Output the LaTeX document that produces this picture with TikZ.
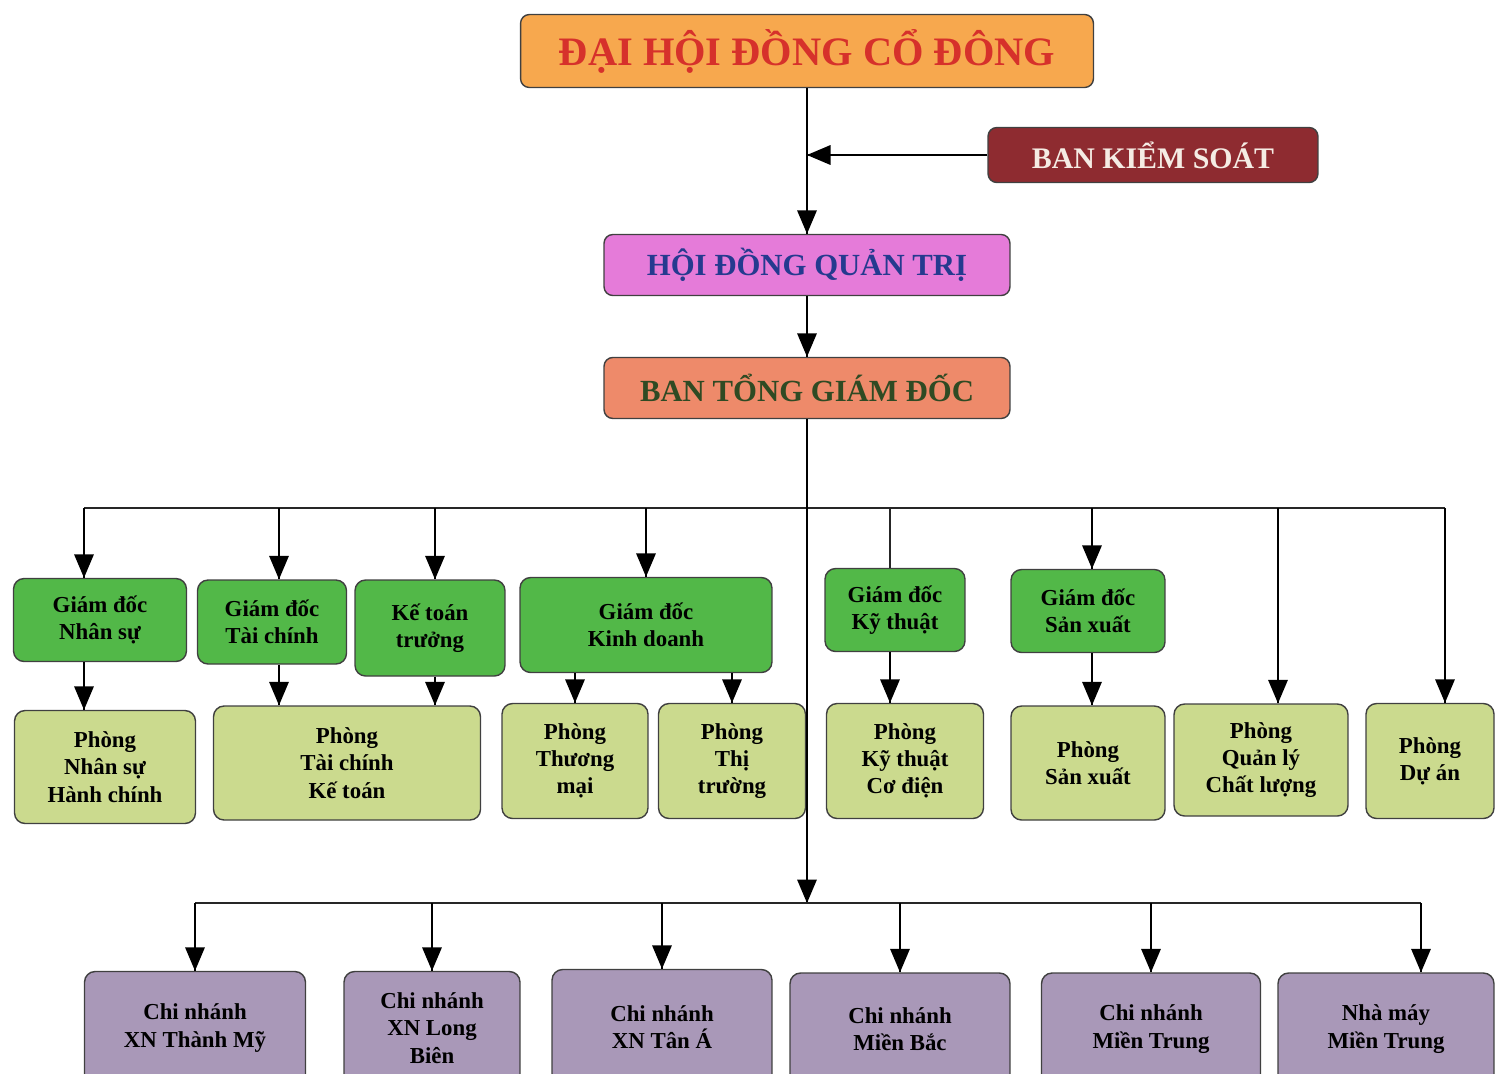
\documentclass[tikz,border=0pt]{standalone}
\usepackage{fontspec}
\setmainfont{Liberation Serif}
\usetikzlibrary{arrows,decorations.markings}
\definecolor{dhorange}{HTML}{F7A84E}
\definecolor{dhred}{HTML}{D6312B}
\definecolor{bksred}{HTML}{8E2B30}
\definecolor{bkswhite}{HTML}{F5ECE4}
\definecolor{hdpink}{HTML}{E57BD9}
\definecolor{hdblue}{HTML}{253A8F}
\definecolor{tgsalmon}{HTML}{EE8A6A}
\definecolor{tggreen}{HTML}{2F4A23}
\definecolor{gdgreen}{HTML}{52B848}
\definecolor{dptgreen}{HTML}{CBDA8E}
\definecolor{brpurple}{HTML}{A998B8}
\tikzstyle{topbox} = [rectangle, rounded corners=5pt, draw=black!75, line width=0.8pt, text centered]
\tikzstyle{director} = [rectangle, rounded corners=6pt, draw=black!75, line width=0.8pt, fill=gdgreen, align=center, font=\fontsize{13}{15.5}\selectfont\bfseries]
\tikzstyle{dept} = [rectangle, rounded corners=6pt, draw=black!75, line width=0.8pt, fill=dptgreen, align=center, font=\fontsize{13}{15.5}\selectfont\bfseries]
\tikzstyle{branch} = [rectangle, rounded corners=6pt, draw=black!75, line width=0.8pt, fill=brpurple, align=center, font=\fontsize{13}{15.5}\selectfont\bfseries]
\tikzstyle{busline} = [line width=0.8pt, black!85]
\begin{document}
\begin{tikzpicture}[x=0.02cm, y=-0.02cm, node distance=2.46cm, line width=1.3pt]
    \tikzset{dnarrow/.style={decoration={markings,mark=at position 1 with %
    {\arrow[scale=1.35]{triangle 45}}},postaction={decorate}}}
    \useasboundingbox (0,0) rectangle (1495,1073);

    % top of the company
    \node (dhdcd) [topbox, fill=dhorange, text=dhred, minimum width=11.46cm, minimum height=1.46cm, font=\fontsize{23}{23}\selectfont\bfseries] at (807,51) {ĐẠI HỘI ĐỒNG CỔ ĐÔNG};
    \node (bks) [topbox, fill=bksred, text=bkswhite, minimum width=6.6cm, minimum height=1.1cm, font=\fontsize{17}{17}\selectfont\bfseries] at (1153,155) {BAN KIỂM SOÁT};
    \node (hdqt) [topbox, fill=hdpink, text=hdblue, minimum width=8.12cm, minimum height=1.22cm, font=\fontsize{17.5}{17.5}\selectfont\bfseries] at (807,265) {HỘI ĐỒNG QUẢN TRỊ};
    \node (btgd) [topbox, fill=tgsalmon, text=tggreen, minimum width=8.12cm, minimum height=1.22cm, font=\fontsize{17.5}{17.5}\selectfont\bfseries, below of=hdqt] {BAN TỔNG GIÁM ĐỐC};

    \draw [dnarrow] (dhdcd.south) -- (hdqt.north);
    \draw [dnarrow] (bks.west) -- (bks.west -| hdqt.north);
    \draw [dnarrow] (hdqt.south) -- (btgd.north);

    % directors
    \node (gdns) [director, minimum width=3.46cm, minimum height=1.66cm] at (100,620) {Giám đốc\\Nhân sự};
    \node (gdtc) [director, minimum width=2.98cm, minimum height=1.68cm] at (272,622) {Giám đốc\\Tài chính};
    \node (ktt) [director, minimum width=3.0cm, minimum height=1.92cm] at (430,628) {Kế toán\\trưởng};
    \node (gdkd) [director, minimum width=5.04cm, minimum height=1.9cm] at (646,625) {Giám đốc\\Kinh doanh};
    \node (gdkt) [director, minimum width=2.8cm, minimum height=1.66cm] at (895,610) {Giám đốc\\Kỹ thuật};
    \node (gdsx) [director, minimum width=3.08cm, minimum height=1.66cm] at (1088,611) {Giám đốc\\Sản xuất};

    % departments
    \node (pns) [dept, minimum width=3.62cm, minimum height=2.26cm] at (105,767) {Phòng\\Nhân sự\\Hành chính};
    \node (ptc) [dept, minimum width=5.34cm, minimum height=2.28cm] at (347,763) {Phòng\\Tài chính\\Kế toán};
    \node (ptm) [dept, minimum width=2.92cm, minimum height=2.3cm] at (575,761) {Phòng\\Thương\\mại};
    \node (ptt) [dept, minimum width=2.94cm, minimum height=2.3cm] at (732,761) {Phòng\\Thị\\trường};
    \node (pkt) [dept, minimum width=3.14cm, minimum height=2.3cm] at (905,761) {Phòng\\Kỹ thuật\\Cơ điện};
    \node (psx) [dept, minimum width=3.08cm, minimum height=2.28cm] at (1088,763) {Phòng\\Sản xuất};
    \node (pql) [dept, minimum width=3.48cm, minimum height=2.24cm] at (1261,760) {Phòng\\Quản lý\\Chất lượng};
    \node (pda) [dept, minimum width=2.56cm, minimum height=2.3cm] at (1430,761) {Phòng\\Dự án};

    % branches
    \node (cntm) [branch, minimum width=4.42cm, minimum height=2.26cm] at (195,1028) {Chi nhánh\\XN Thành Mỹ};
    \node (cnlb) [branch, minimum width=3.52cm, minimum height=2.26cm] at (432,1028) {Chi nhánh\\XN Long\\Biên};
    \node (cnta) [branch, minimum width=4.4cm, minimum height=2.3cm] at (662,1027) {Chi nhánh\\XN Tân Á};
    \node (cnmb) [branch, minimum width=4.4cm, minimum height=2.24cm] at (900,1029) {Chi nhánh\\Miền Bắc};
    \node (cnmt) [branch, minimum width=4.38cm, minimum height=2.24cm] at (1151,1029) {Chi nhánh\\Miền Trung};
    \node (nmmt) [branch, minimum width=4.32cm, minimum height=2.24cm] at (1386,1029) {Nhà máy\\Miền Trung};

    % upper bus
    \coordinate (b1) at (84,508);
    \coordinate (b2) at (279,508);
    \coordinate (b3) at (435,508);
    \coordinate (b4) at (646,508);
    \coordinate (b5) at (890,508);
    \coordinate (b6) at (1092,508);
    \coordinate (b7) at (1278,508);
    \coordinate (b8) at (1445,508);
    \draw [busline] (b1) -- (b8);
    \draw [dnarrow] (b1) -- (b1 |- gdns.north);
    \draw [dnarrow] (b2) -- (b2 |- gdtc.north);
    \draw [dnarrow] (b3) -- (b3 |- ktt.north);
    \draw [dnarrow] (b4) -- (b4 |- gdkd.north);
    \draw [busline] (b5) -- (b5 |- gdkt.north);
    \draw [dnarrow] (b6) -- (b6 |- gdsx.north);
    \draw [dnarrow] (b7) -- (b7 |- pql.north);
    \draw [dnarrow] (b8) -- (b8 |- pda.north);

    \draw [dnarrow] (b1 |- gdns.south) -- (b1 |- pns.north);
    \draw [dnarrow] (b2 |- gdtc.south) -- (b2 |- ptc.north);
    \draw [dnarrow] (b3 |- ktt.south) -- (b3 |- ptc.north);
    \draw [dnarrow] (ptm.north |- gdkd.south) -- (ptm.north);
    \draw [dnarrow] (ptt.north |- gdkd.south) -- (ptt.north);
    \draw [dnarrow] (b5 |- gdkt.south) -- (b5 |- pkt.north);
    \draw [dnarrow] (b6 |- gdsx.south) -- (b6 |- psx.north);

    % lower bus
    \coordinate (lowbus) at (807,903);
    \coordinate (b9) at (1421,903);
    \draw [dnarrow] (btgd.south) -- (lowbus);
    \draw [busline] (cntm.north |- lowbus) -- (b9);
    \draw [dnarrow] (cntm.north |- lowbus) -- (cntm.north);
    \draw [dnarrow] (cnlb.north |- lowbus) -- (cnlb.north);
    \draw [dnarrow] (cnta.north |- lowbus) -- (cnta.north);
    \draw [dnarrow] (cnmb.north |- lowbus) -- (cnmb.north);
    \draw [dnarrow] (cnmt.north |- lowbus) -- (cnmt.north);
    \draw [dnarrow] (b9) -- (b9 |- nmmt.north);
\end{tikzpicture}
\end{document}
